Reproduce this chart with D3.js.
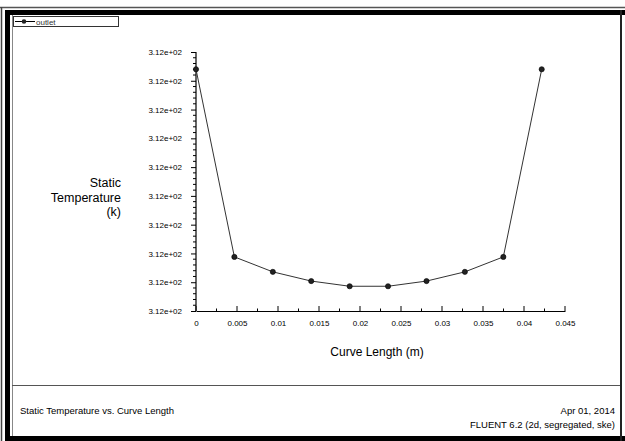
<!DOCTYPE html>
<html>
<head>
<meta charset="utf-8">
<script src="https://cdn.jsdelivr.net/npm/d3@7"></script>
<style>
  html, body { margin: 0; padding: 0; background: #fff; }
  svg { display: block; font-family: "Liberation Sans", Arial, sans-serif; }
</style>
</head>
<body>
<svg id="chart" width="625" height="441"></svg>
<script>
// Static temperature along the outlet curve
const curveLength = [0, 0.00468, 0.00937, 0.01405, 0.01874, 0.02342, 0.02811, 0.03279, 0.03748, 0.04216];
const staticTemp  = [312.1420, 312.1094, 312.1068, 312.1052, 312.1043, 312.1043, 312.1052, 312.1068, 312.1094, 312.1420];

const xTicks = [0, 0.005, 0.01, 0.015, 0.02, 0.025, 0.03, 0.035, 0.04, 0.045];
const xTickLabels = ["0", "0.005", "0.01", "0.015", "0.02", "0.025", "0.03", "0.035", "0.04", "0.045"];
const yTicks = [312.100, 312.105, 312.110, 312.115, 312.120, 312.125, 312.130, 312.135, 312.140, 312.145];

const seriesName = "outlet";
const xTitle = "Curve Length (m)";
const yTitleLines = ["Static", "Temperature", "(k)"];
const plotTitle = "Static Temperature vs. Curve Length";
const dateText = "Apr 01, 2014";
const solverText = "FLUENT 6.2 (2d, segregated, ske)";

const svg = d3.select("#chart");

// window frame
svg.append("rect").attr("x", 0).attr("y", 0).attr("width", 625).attr("height", 441).attr("fill", "#fff");
svg.append("line").attr("x1", 0).attr("x2", 625).attr("y1", 7.5).attr("y2", 7.5).attr("stroke", "#555").attr("stroke-width", 1.5);
svg.append("rect").attr("x", 5).attr("y", 10).attr("width", 620).attr("height", 5).attr("fill", "#000");
svg.append("line").attr("x1", 1.5).attr("x2", 1.5).attr("y1", 7).attr("y2", 441).attr("stroke", "#444").attr("stroke-width", 1.5);
svg.append("rect").attr("x", 5).attr("y", 10).attr("width", 5).attr("height", 431).attr("fill", "#000");
svg.append("rect").attr("x", 5).attr("y", 436).attr("width", 620).attr("height", 5).attr("fill", "#000");
svg.append("rect").attr("x", 620).attr("y", 10).attr("width", 2).attr("height", 431).attr("fill", "#222");
svg.append("line").attr("x1", 12.5).attr("x2", 12.5).attr("y1", 15).attr("y2", 436).attr("stroke", "#888").attr("stroke-width", 1);
svg.append("line").attr("x1", 12).attr("x2", 620).attr("y1", 385.5).attr("y2", 385.5).attr("stroke", "#555").attr("stroke-width", 1);

// scales
const x = d3.scaleLinear().domain([0, 0.045]).range([196, 565]);
const y = d3.scaleLinear().domain([312.100, 312.145]).range([311, 52]);

const fmtY = v => d3.format(".2e")(v).replace(/e([+-])(\d)$/, "e$10$2");

// x axis
const xAxis = d3.axisBottom(x).tickValues(xTicks).tickSize(0).tickPadding(9)
  .tickFormat((d, i) => xTickLabels[i]);
const gx = svg.append("g").attr("transform", "translate(0,311)").call(xAxis);
gx.select(".domain").attr("stroke", "#000").attr("stroke-width", 1.2);
gx.selectAll("text").attr("font-size", 8).attr("fill", "#000").attr("font-family", "Liberation Sans, Arial, sans-serif");
// major / minor ticks on x
const xMinor = d3.range(0, 0.0451, 0.0025);
svg.append("g").selectAll("line").data(xMinor).join("line")
  .attr("x1", d => x(d)).attr("x2", d => x(d))
  .attr("y1", 311).attr("y2", (d, i) => i % 2 === 0 ? 306 : 308.5)
  .attr("stroke", "#000").attr("stroke-width", 1);

// y axis
const yAxis = d3.axisLeft(y).tickValues(yTicks).tickSize(5).tickPadding(9).tickFormat(fmtY);
const gy = svg.append("g").attr("transform", "translate(196,0)").call(yAxis);
gy.select(".domain").attr("stroke", "#000").attr("stroke-width", 1.2).attr("d", "M0,52V311");
gy.selectAll(".tick line").attr("stroke", "#000");
gy.selectAll("text").attr("font-size", 8).attr("fill", "#000").attr("font-family", "Liberation Sans, Arial, sans-serif");
const yMinor = d3.range(0, 46).map(i => 312.100 + i * 0.001).filter((d, i) => i % 5 !== 0);
svg.append("g").selectAll("line").data(yMinor).join("line")
  .attr("x1", 193).attr("x2", 196)
  .attr("y1", d => y(d)).attr("y2", d => y(d))
  .attr("stroke", "#000").attr("stroke-width", 1);

// axis titles
svg.append("text").attr("x", 377).attr("y", 356).attr("text-anchor", "middle")
  .attr("font-size", 12).attr("fill", "#000").text(xTitle);
svg.append("text").attr("text-anchor", "end").attr("font-size", 12.5).attr("fill", "#000")
  .selectAll("tspan").data(yTitleLines).join("tspan")
  .attr("x", 121).attr("y", (d, i) => 187 + i * 14.5).text(d => d);

// data line and markers
const pts = curveLength.map((c, i) => [c, staticTemp[i]]);
svg.append("path").datum(pts)
  .attr("fill", "none").attr("stroke", "#333").attr("stroke-width", 1)
  .attr("d", d3.line().x(d => x(d[0])).y(d => y(d[1])));
svg.append("g").selectAll("circle").data(pts).join("circle")
  .attr("cx", d => x(d[0])).attr("cy", d => y(d[1])).attr("r", 2.6)
  .attr("fill", "#222").attr("stroke", "#000").attr("stroke-width", 0.6);

// legend
svg.append("rect").attr("x", 13.5).attr("y", 16.5).attr("width", 105).attr("height", 10)
  .attr("fill", "#fff").attr("stroke", "#333").attr("stroke-width", 1);
svg.append("line").attr("x1", 15).attr("x2", 35).attr("y1", 21.5).attr("y2", 21.5).attr("stroke", "#000");
svg.append("circle").attr("cx", 24).attr("cy", 21.5).attr("r", 2.3).attr("fill", "#222");
svg.append("text").attr("x", 36).attr("y", 25).attr("font-size", 8).attr("fill", "#333").text(seriesName);

// footer
svg.append("text").attr("x", 20).attr("y", 414).attr("font-size", 9.5).attr("fill", "#000").text(plotTitle);
svg.append("text").attr("x", 615).attr("y", 414).attr("text-anchor", "end").attr("font-size", 9.5).attr("fill", "#000").text(dateText);
svg.append("text").attr("x", 615).attr("y", 428).attr("text-anchor", "end").attr("font-size", 9.5).attr("fill", "#000").text(solverText);
</script>
</body>
</html>
